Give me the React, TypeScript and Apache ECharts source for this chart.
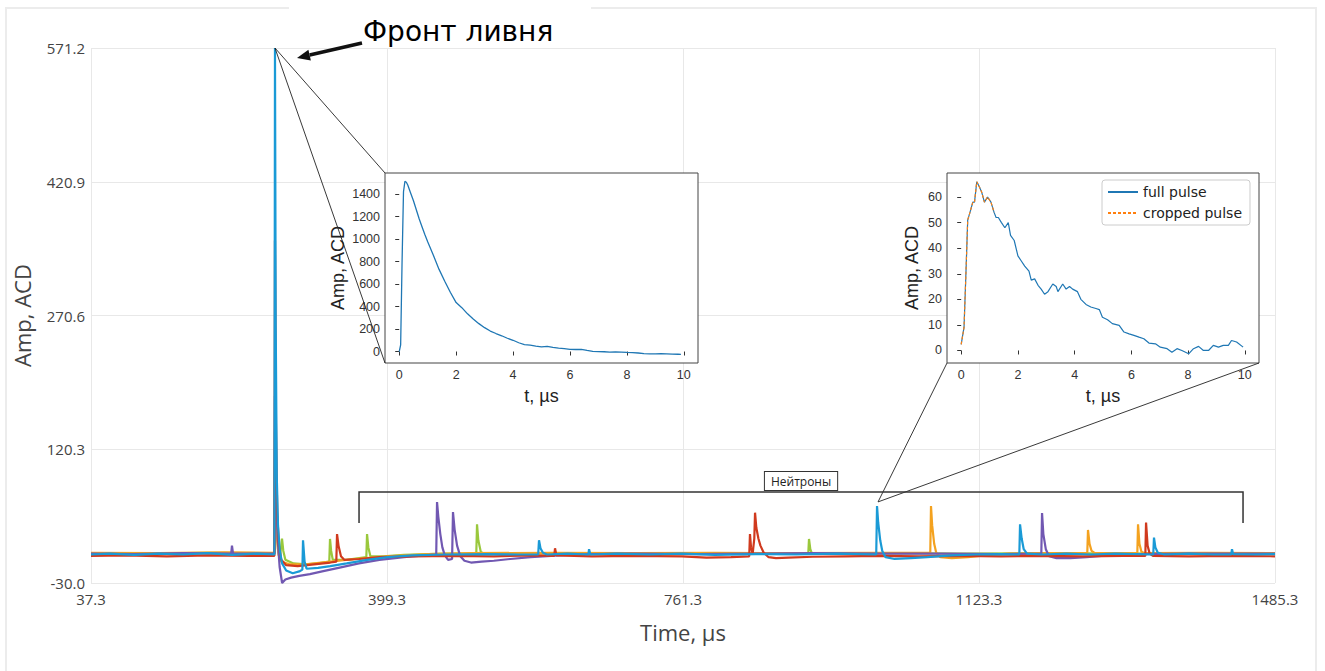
import React, { useEffect, useRef } from "react";
import * as echarts from "echarts";

// ---------- main axis ----------
const X_MIN = 37.3;
const X_STEP = 362;
const X_MAX = 1485.3;
const Y_MIN = -30.0;
const Y_STEP = 150.3;
const Y_MAX = 571.2;

// ---------- main traces (time µs, amplitude) ----------
const traceNames = ["ch5", "ch4", "ch3", "ch2", "ch1"];
const traceColors = ["#9ac83c", "#f4a21f", "#7158b2", "#d03a1e", "#1a9ad6"];

const greenTrace = [
  [37.3, 3.5], [100, 3], [180, 4], [261.6, 3.5], [262.3, 140], [264, 45], [266, 8], [268.5, 0], [270.9, 20], [272.5, 6],
  [275, -4], [285, -8], [300, -9], [315, -8], [328.7, -6], [329.6, 19.5], [331, 6], [333, -4], [350, -4], [374, -1],
  [374.9, 25], [376.5, 10], [379, 0], [395, 0], [420, 1.5], [470, 3], [508.5, 3], [509.4, 36], [511, 18], [514, 5],
  [518, 3], [600, 3.5], [700, 3], [800, 3.5], [914.5, 3], [915.4, 19.5], [917, 8], [919, 3], [1000, 3.5], [1100, 3],
  [1200, 3.5], [1300, 3], [1400, 3.5], [1485.3, 3],
];
const orangeTrace = [
  [37.3, 4], [120, 3.5], [200, 4.5], [261.6, 4], [262.3, 110], [264, 30], [266.5, 2], [270, -6], [280, -9], [300, -9],
  [330, -6], [360, -3], [400, 0], [450, 2.5], [500, 3.5], [600, 4], [700, 3.5], [800, 4], [900, 3.5], [1000, 4],
  [1063.7, 4], [1064.6, 56.5], [1066, 35], [1068.5, 14], [1071, 4], [1076, -1], [1090, -2], [1110, -1], [1130, 1],
  [1160, 3], [1200, 3.5], [1255.7, 3.5], [1256.6, 29.6], [1258.5, 14], [1261, 6], [1265, 3.5], [1316.9, 3.5], [1317.8, 36],
  [1319.5, 14], [1322, 5], [1326, 3.5], [1400, 4], [1485.3, 3.5],
];
const purpleTrace = [
  [37.3, 3], [90, 2.5], [150, 3.5], [208.8, 3], [209.7, 12], [211, 3], [240, 3], [261.6, 3], [262.3, 180], [263.5, 80],
  [265.5, 20], [268, -12], [271, -30], [275, -26], [282, -24], [292, -22], [305, -20], [320, -17], [340, -13], [365, -8],
  [390, -4], [420, -1], [445, 1], [459.5, 2], [460.5, 61], [462, 45], [464.5, 25], [467, 10], [470, 1], [474, -4],
  [478.9, -3], [480, 49.8], [482, 30], [485, 12], [489, 0], [494, -5], [502, -7], [515, -6], [530, -5], [550, -3],
  [575, -1], [610, 1], [650, 2.5], [700, 3], [780, 2.5], [850, 3], [920, 3.5], [1000, 3], [1080, 3], [1150, 2.5],
  [1199.5, 3], [1200.4, 48.7], [1202, 25], [1205, 8], [1209, 0], [1218, -2], [1235, -2], [1255, -1], [1280, 1],
  [1320, 2.5], [1380, 3], [1440, 3], [1485.3, 3],
];
const redTrace = [
  [37.3, 0.5], [80, 1], [130, 0], [180, 1], [230, 0.5], [261.6, 0.5], [262.3, 355], [263.5, 150], [265, 50], [267, 12],
  [270, -4], [276, -10], [290, -11], [310, -9], [330, -7], [337.3, -6], [338.2, 25], [340, 12], [343, 0], [347, -4],
  [365, -3], [390, -1], [430, 0], [480, 0.5], [530, 0], [580, 1], [603.8, 0.5], [604.8, 9], [606.5, 1], [650, 0],
  [700, 0.5], [760, 0], [790, -1.5], [820, -1], [842.3, 0], [843.2, 25], [844.5, 10], [846.5, 3], [848.5, 20],
  [849.4, 49], [851, 32], [853.5, 20], [856, 12], [860, 4], [866, -1], [875, -2], [890, -1.5], [920, -0.5], [960, 0],
  [1000, 0.5], [1050, 0], [1100, 0.5], [1150, 0], [1200, 0.5], [1250, 0], [1300, 0.5], [1326.7, 0.5], [1327.6, 38],
  [1329.5, 12], [1332, 3], [1336, 0.5], [1380, 0], [1430, 0.5], [1485.3, 0],
];
const blueTrace = [
  [37.3, 2], [60, 3], [90, 1.5], [120, 3], [150, 2], [180, 3.5], [210, 1.5], [240, 3], [261.6, 2], [262.3, 571.2],
  [263.2, 260], [264.5, 90], [266, 35], [268, 8], [271, -8], [276, -16], [284, -19], [292, -17], [295.8, -15],
  [296.6, 18], [298.5, -6], [301, -14], [315, -13], [330, -11], [350, -8], [375, -4], [400, -1], [430, 1], [470, 2],
  [520, 2.5], [560, 2], [584.2, 2], [585.2, 18], [587, 9], [590, 4], [595, 2], [620, 3], [645.6, 2], [646.4, 8],
  [648, 2], [680, 3], [720, 2], [760, 3], [800, 1.5], [850, 2.5], [900, 2], [950, 3], [997.6, 2], [998.6, 56.5],
  [1000, 38], [1002.5, 18], [1005, 6], [1009, -1], [1020, -3], [1040, -2], [1060, -1], [1090, 1], [1120, 2],
  [1150, 2.5], [1172.6, 2], [1173.5, 36], [1175.5, 20], [1178, 8], [1182, 3], [1200, 2], [1230, 3], [1260, 2],
  [1290, 3], [1336.4, 2], [1337.3, 21], [1339, 10], [1342, 4], [1350, 2], [1380, 3], [1410, 2], [1431.8, 2],
  [1432.7, 8], [1434, 2.5], [1460, 2], [1485.3, 2.5],
];
const traces = [greenTrace, orangeTrace, purpleTrace, redTrace, blueTrace];

// ---------- inset 1: shower-front pulse ----------
const inset1T = [
  0, 0.05, 0.1, 0.15, 0.2, 0.25, 0.3, 0.4, 0.5, 0.6, 0.7, 0.8, 0.9, 1.0, 1.2, 1.4, 1.6, 1.8, 2.0, 2.2, 2.4, 2.6, 2.8,
  3.0, 3.2, 3.4, 3.6, 3.8, 4.0, 4.2, 4.4, 4.6, 4.8, 5.0, 5.2, 5.4, 5.6, 5.8, 6.0, 6.2, 6.4, 6.6, 6.8, 7.0, 7.2, 7.4,
  7.6, 7.8, 8.0, 8.2, 8.4, 8.6, 8.8, 9.0, 9.2, 9.4, 9.6, 9.8, 9.9,
];
const inset1Amp = [
  0, 60, 800, 1420, 1512, 1505, 1480, 1410, 1340, 1260, 1180, 1110, 1040, 975, 855, 730, 625, 525, 435, 390, 335,
  290, 248, 212, 182, 160, 140, 118, 100, 78, 62, 56, 48, 42, 45, 36, 30, 25, 20, 18, 20, 10, 2, 0, -2, -5, -3, -5,
  -8, -9, -13, -18, -20, -20, -19, -21, -23, -24, -25,
];

// ---------- inset 2: neutron pulse ----------
const inset2T = [
  0, 0.1, 0.17, 0.23, 0.31, 0.41, 0.47, 0.55, 0.64, 0.72, 0.82, 0.93, 1.05, 1.16, 1.23, 1.31, 1.42, 1.54, 1.66, 1.74,
  1.87, 2.0, 2.12, 2.24, 2.39, 2.47, 2.59, 2.71, 2.82, 2.94, 3.06, 3.23, 3.35, 3.41, 3.58, 3.7, 3.82, 3.93, 4.1, 4.22,
  4.4, 4.57, 4.75, 4.87, 4.98, 5.16, 5.33, 5.57, 5.74, 5.92, 6.09, 6.27, 6.44, 6.62, 6.85, 7.02, 7.26, 7.43, 7.61,
  7.78, 8.02, 8.19, 8.37, 8.54, 8.72, 8.89, 9.07, 9.24, 9.42, 9.53, 9.71, 9.94,
];
const inset2Amp = [
  2.4, 9, 31, 51, 54, 58, 58, 66, 64, 62, 58, 60, 58, 54, 52, 52, 50, 48, 50, 45, 43, 37, 35, 33, 31, 27.5, 28, 25.5,
  24, 22, 23, 26, 25, 23, 26, 24, 25, 24, 23, 20, 18, 17, 16.4, 16, 13, 12, 10.5, 9.8, 7.2, 6.5, 5.9, 5.2, 4.6, 2.9,
  2.6, 1.3, 0.7, -0.7, 0.7, 0, -1.3, 0.7, 1.6, 0, 0, 2, 1.3, 2, 2, 3.9, 3.3, 1.3,
];
const croppedCount = 14; // points up to ~1.2 µs

const insetXTicks = [0, 2, 4, 6, 8, 10];
const inset1YTicks = [0, 200, 400, 600, 800, 1000, 1200, 1400];
const inset2YTicks = [0, 10, 20, 30, 40, 50, 60];

// ---------- annotations (data coords) ----------
const frontPeak = [262.3, 571.2];
const neutronPeak = [998.6, 60];
const bracketX = [365.1, 1446.2];
const bracketY = [37.4, 72.3];
const bracketLabelY = 84.6;
const bracketLabel = "Нейтроны";
const frontLabel = "Фронт ливня";

const INK = "#222";
const insetFont = "Liberation Sans";

function insetAxes(gi: number, xr: number[], yr: number[], yTicks: number[], yGap: number) {
  const common = {
    gridIndex: gi,
    type: "value" as const,
    z: 4,
    axisLine: { show: false },
    splitLine: { show: false },
    nameLocation: "middle" as const,
    nameTextStyle: { fontSize: 18, color: INK, fontFamily: insetFont },
  };
  const lbl = { fontSize: 12.5, color: "#333", fontFamily: insetFont, margin: 5, formatter: (v: number) => String(v) };
  return {
    x: {
      ...common,
      min: xr[0],
      max: xr[1],
      axisTick: { show: true, customValues: insetXTicks, length: 4, lineStyle: { color: "#333" } },
      axisLabel: { ...lbl, customValues: insetXTicks },
      name: "t, µs",
      nameGap: 24,
    },
    y: {
      ...common,
      min: yr[0],
      max: yr[1],
      axisTick: { show: true, customValues: yTicks, length: 4, lineStyle: { color: "#333" } },
      axisLabel: { ...lbl, customValues: yTicks },
      name: "Amp, ACD",
      nameGap: yGap,
    },
  };
}

export default function App() {
  const ref = useRef<HTMLDivElement>(null);
  useEffect(() => {
    document.body.style.margin = "0";
    const chart = echarts.init(ref.current!, null, { renderer: "svg" });
    const xSpan = Math.round((X_MAX - X_MIN) * 10) / 10;
    const ySpan = Math.round((Y_MAX - Y_MIN) * 10) / 10;
    const i1 = insetAxes(1, [-0.5, 10.5], [-102, 1587], inset1YTicks, 38);
    const i2 = insetAxes(2, [-0.5, 10.5], [-4.9, 69.4], inset2YTicks, 26);
    const mainLabel = { color: "#444", fontSize: 15, fontFamily: "Open Sans" };

    chart.setOption({
      animation: false,
      backgroundColor: "#fff",
      grid: [
        { left: 91, top: 48, width: 1184, height: 535 },
        { left: 385, top: 173, width: 313, height: 190, show: true, backgroundColor: "#fff", borderColor: "#444", borderWidth: 1, z: 3 },
        { left: 947, top: 173, width: 312, height: 190, show: true, backgroundColor: "#fff", borderColor: "#444", borderWidth: 1, z: 3 },
      ],
      xAxis: [
        {
          gridIndex: 0,
          type: "value",
          min: 0,
          max: xSpan,
          interval: X_STEP,
          axisLine: { show: false },
          axisTick: { show: false },
          splitLine: { lineStyle: { color: "#e8e8e8", width: 1 } },
          axisLabel: { ...mainLabel, margin: 8, formatter: (v: number) => (v + X_MIN).toFixed(1) },
          name: "Time, µs",
          nameLocation: "middle",
          nameGap: 38,
          nameTextStyle: { fontSize: 22, color: "#444", fontFamily: "Open Sans" },
        },
        i1.x,
        i2.x,
      ],
      yAxis: [
        {
          gridIndex: 0,
          type: "value",
          min: 0,
          max: ySpan,
          interval: Y_STEP,
          axisLine: { show: false },
          axisTick: { show: false },
          splitLine: { lineStyle: { color: "#e8e8e8", width: 1 } },
          axisLabel: { ...mainLabel, margin: 6, formatter: (v: number) => (v + Y_MIN).toFixed(1) },
          name: "Amp, ACD",
          nameLocation: "middle",
          nameGap: 58,
          nameTextStyle: { fontSize: 22, color: "#444", fontFamily: "Open Sans" },
        },
        i1.y,
        i2.y,
      ],
      legend: {
        data: ["full pulse", "cropped pulse"],
        orient: "vertical",
        left: 1102,
        top: 180,
        selectedMode: false,
        itemWidth: 30,
        itemHeight: 10,
        itemGap: 7,
        padding: [5, 8, 5, 5],
        borderColor: "#ccc",
        borderWidth: 1,
        borderRadius: 3,
        backgroundColor: "#fff",
        itemStyle: { opacity: 0 },
        textStyle: { fontSize: 14, color: INK, fontFamily: "DejaVu Sans" },
        z: 10,
      },
      series: [
        ...traces.map((tr, i) => ({
          type: "line",
          name: traceNames[i],
          xAxisIndex: 0,
          yAxisIndex: 0,
          symbol: "none",
          color: traceColors[i],
          lineStyle: { width: 2.2, color: traceColors[i] },
          z: 2,
          data: tr.map((p) => [p[0] - X_MIN, p[1] - Y_MIN]),
        })),
        {
          type: "line",
          name: "inset front",
          xAxisIndex: 1,
          yAxisIndex: 1,
          symbol: "none",
          color: "#1f77b4",
          lineStyle: { width: 1.3, color: "#1f77b4" },
          z: 5,
          data: inset1T.map((t, i) => [t, inset1Amp[i]]),
        },
        {
          type: "line",
          name: "full pulse",
          xAxisIndex: 2,
          yAxisIndex: 2,
          symbol: "none",
          color: "#1f77b4",
          lineStyle: { width: 1.2, color: "#1f77b4" },
          z: 5,
          data: inset2T.map((t, i) => [t, inset2Amp[i]]),
        },
        {
          type: "line",
          name: "cropped pulse",
          xAxisIndex: 2,
          yAxisIndex: 2,
          symbol: "none",
          color: "#ff7f0e",
          lineStyle: { width: 1.2, type: [3, 2], color: "#ff7f0e" },
          z: 6,
          data: inset2T.slice(0, croppedCount).map((t, i) => [t, inset2Amp[i]]),
        },
      ],
    });

    const px = (gi: number, x: number, y: number) =>
      chart.convertToPixel({ gridIndex: gi } as any, [x, y]) as number[];
    const pm = (x: number, y: number) => px(0, x - X_MIN, y - Y_MIN);

    const fp = pm(frontPeak[0], frontPeak[1]);
    const np = pm(neutronPeak[0], neutronPeak[1]);
    const i1TL = px(1, -0.5, 1587);
    const i1BL = px(1, -0.5, -102);
    const i2BL = px(2, -0.5, -4.9);
    const i2BR = px(2, 10.5, -4.9);
    const bL = pm(bracketX[0], bracketY[0]);
    const bLT = pm(bracketX[0], bracketY[1]);
    const bRT = pm(bracketX[1], bracketY[1]);
    const bR = pm(bracketX[1], bracketY[0]);
    const lbl = pm((bracketX[0] + bracketX[1]) / 2, bracketLabelY);

    const thin = { stroke: "#222", lineWidth: 0.9 };
    // arrow pointing to the front peak
    const tip = [fp[0] + 22, fp[1] + 10];
    const tail = [fp[0] + 87, fp[1] - 5];
    const dx = tip[0] - tail[0];
    const dy = tip[1] - tail[1];
    const len = Math.hypot(dx, dy);
    const ux = dx / len;
    const uy = dy / len;
    const hb = [tip[0] - 13 * ux, tip[1] - 13 * uy];
    const head = [
      tip,
      [hb[0] - 5.5 * uy, hb[1] + 5.5 * ux],
      [hb[0] + 5.5 * uy, hb[1] - 5.5 * ux],
    ];

    chart.setOption({
      graphic: [
        { type: "rect", z: 0, silent: true, shape: { x: 6, y: 8, width: 1310, height: 720 }, style: { fill: "none", stroke: "#ececec", lineWidth: 2 } },
        { type: "rect", z: 1, silent: true, shape: { x: 289, y: 0, width: 302, height: 30 }, style: { fill: "#fff" } },
        { type: "text", z: 20, x: 363, y: 31, style: { text: frontLabel, fill: "#000", font: "28px DejaVu Sans", verticalAlign: "middle" } },
        { type: "line", z: 20, shape: { x1: tail[0], y1: tail[1], x2: hb[0], y2: hb[1] }, style: { stroke: "#111", lineWidth: 3.5 } },
        { type: "polygon", z: 20, shape: { points: head }, style: { fill: "#111" } },
        { type: "line", z: 20, shape: { x1: fp[0], y1: fp[1], x2: i1TL[0], y2: i1TL[1] }, style: thin },
        { type: "line", z: 20, shape: { x1: fp[0], y1: fp[1], x2: i1BL[0], y2: i1BL[1] }, style: thin },
        { type: "line", z: 20, shape: { x1: np[0] + 1, y1: np[1] - 1, x2: i2BL[0], y2: i2BL[1] }, style: thin },
        { type: "line", z: 20, shape: { x1: np[0] + 1, y1: np[1] - 1, x2: i2BR[0], y2: i2BR[1] }, style: thin },
        { type: "polyline", z: 20, shape: { points: [bL, bLT, bRT, bR] }, style: { stroke: "#333", lineWidth: 1.5, fill: "none" } },
        {
          type: "text",
          z: 21,
          x: lbl[0],
          y: lbl[1],
          style: {
            text: bracketLabel,
            fill: INK,
            font: "12px Open Sans",
            align: "center",
            verticalAlign: "middle",
            backgroundColor: "#fff",
            borderColor: "#333",
            borderWidth: 1,
            padding: [3, 6],
          },
        },
      ],
    });
    return () => chart.dispose();
  }, []);
  return <div ref={ref} style={{ width: 1325, height: 671 }} />;
}
